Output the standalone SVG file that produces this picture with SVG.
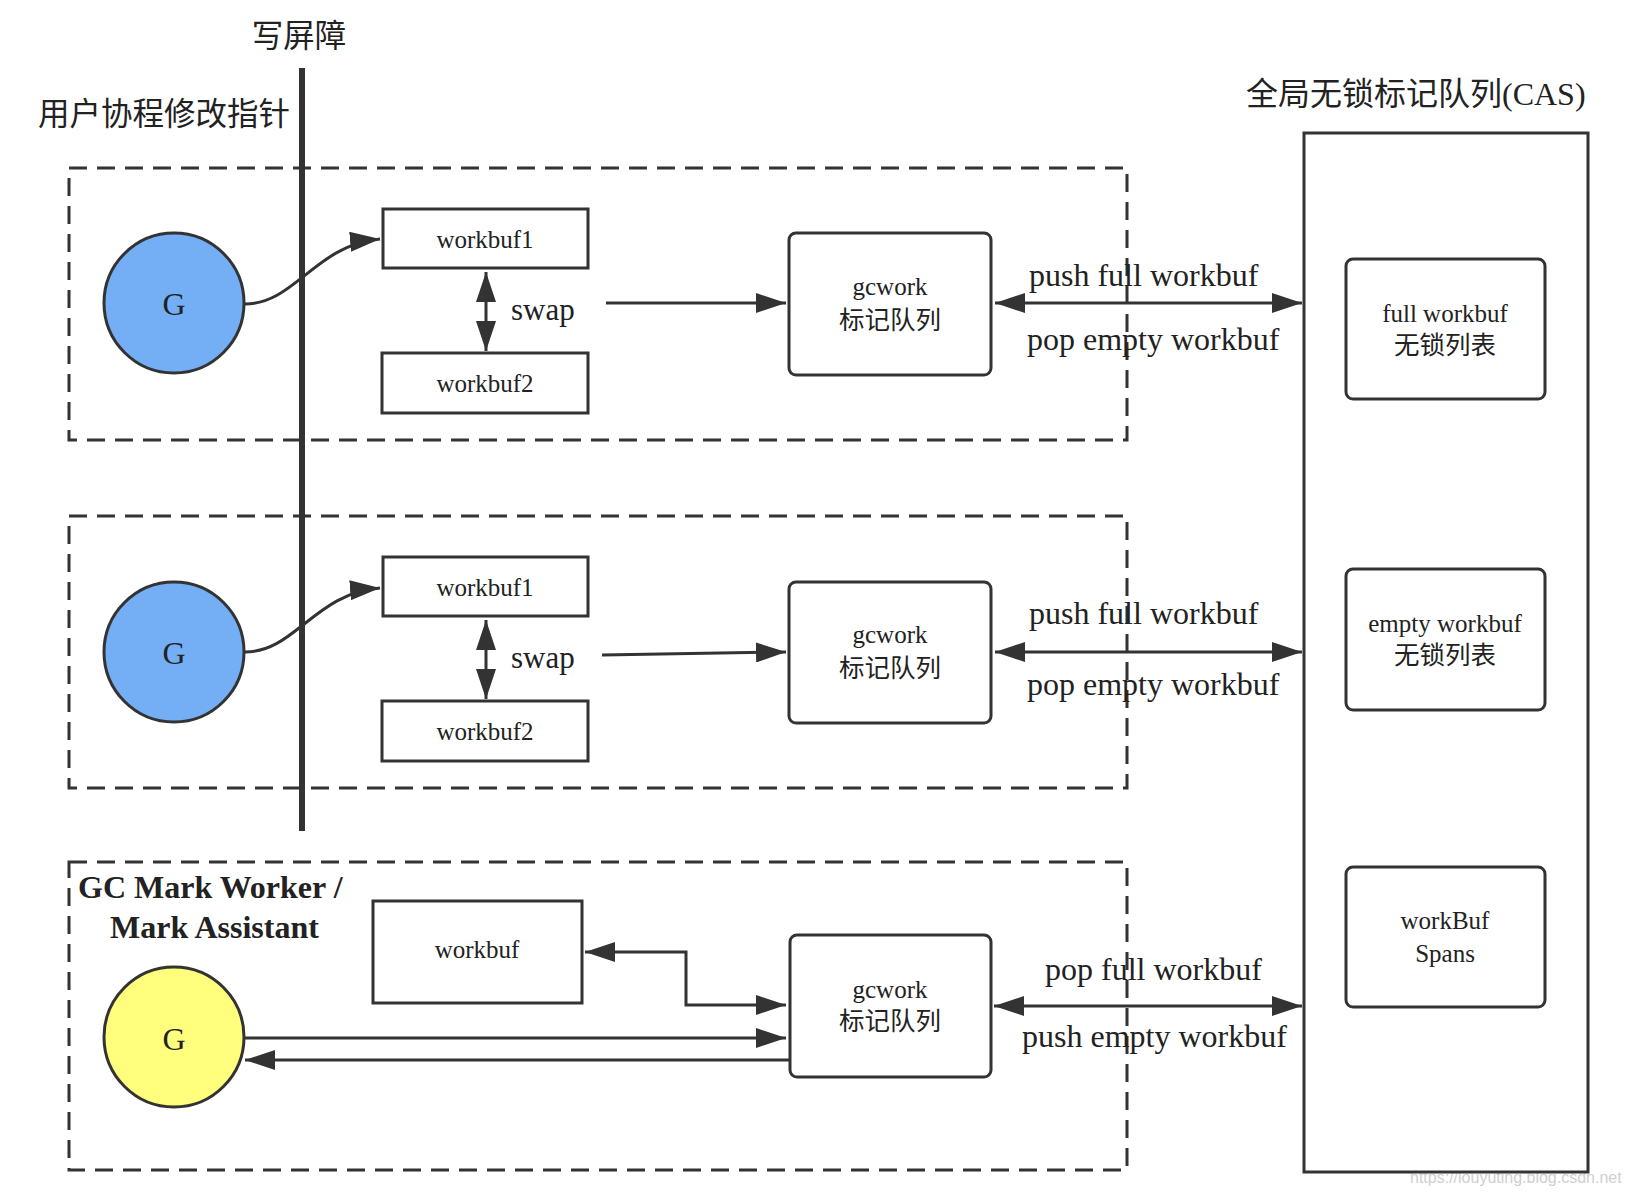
<svg xmlns="http://www.w3.org/2000/svg" width="1630" height="1198" viewBox="0 0 1630 1198">
<style>
.dash{fill:none;stroke:#333;stroke-width:3;stroke-dasharray:18 10}
.box{fill:#fff;stroke:#333;stroke-width:3}
.ln{fill:none;stroke:#333;stroke-width:3}
.t{font-family:"Liberation Serif","Noto Sans CJK SC",serif;fill:#222}
.c{font-family:"Noto Sans CJK SC","Liberation Serif",sans-serif;fill:#222}
.m{text-anchor:middle}
</style>
<defs>
<marker id="ah" markerUnits="userSpaceOnUse" markerWidth="30" markerHeight="20" refX="30" refY="10" orient="auto-start-reverse">
<path d="M0,0 L30,10 L0,20 z" fill="#333"/>
</marker>
</defs>
<rect width="1630" height="1198" fill="#fff"/>

<g id="group1"><rect class="dash" x="69" y="168" width="1058" height="272"/></g>
<g id="group2"><rect class="dash" x="69" y="516" width="1058" height="272"/></g>
<g id="group3"><rect class="dash" x="69" y="862" width="1058" height="308"/></g>

<g id="labels">
<text class="c m" x="299" y="47" font-size="31.5">写屏障</text>
<text class="c" x="38" y="125" font-size="31.5">用户协程修改指针</text>
<text class="t" x="1246" y="105" font-size="32">全局无锁标记队列(CAS)</text>
<text class="t" x="78" y="898" font-size="32" font-weight="bold">GC Mark Worker /</text>
<text class="t" x="110" y="938" font-size="32" font-weight="bold">Mark Assistant</text>
<text x="1410" y="1183" font-size="16" font-family="Liberation Sans,sans-serif" fill="#d0d0d0">https://louyuting.blog.csdn.net</text>
</g>

<g id="write-barrier"><line x1="302" y1="68" x2="302" y2="831" stroke="#333" stroke-width="6"/></g>

<g id="global-queue"><rect x="1304" y="133" width="284" height="1039" fill="none" stroke="#333" stroke-width="3"/></g>

<g id="g1"><circle cx="174" cy="303" r="70" fill="#74AEF5" stroke="#333" stroke-width="3"/><text class="t m" x="174" y="315" font-size="32">G</text></g>
<g id="g2"><circle cx="174" cy="652" r="70" fill="#74AEF5" stroke="#333" stroke-width="3"/><text class="t m" x="174" y="664" font-size="32">G</text></g>
<g id="g3"><circle cx="174" cy="1037" r="70" fill="#FFFF7D" stroke="#333" stroke-width="3"/><text class="t m" x="174" y="1050" font-size="32">G</text></g>

<g id="wb1a"><rect class="box" x="383" y="209" width="205" height="59"/><text class="t m" x="485" y="248" font-size="25">workbuf1</text></g>
<g id="wb2a"><rect class="box" x="382" y="353" width="206" height="60"/><text class="t m" x="485" y="392" font-size="25">workbuf2</text></g>
<g id="wb1b"><rect class="box" x="383" y="557" width="205" height="59"/><text class="t m" x="485" y="596" font-size="25">workbuf1</text></g>
<g id="wb2b"><rect class="box" x="382" y="701" width="206" height="60"/><text class="t m" x="485" y="740" font-size="25">workbuf2</text></g>
<g id="wb3"><rect class="box" x="373" y="901" width="209" height="102"/><text class="t m" x="477" y="958" font-size="25">workbuf</text></g>

<g id="gcwork1"><rect class="box" x="789" y="233" width="202" height="142" rx="7"/><text class="t m" x="890" y="295" font-size="25">gcwork</text><text class="c m" x="890" y="329" font-size="25.5">标记队列</text></g>
<g id="gcwork2"><rect class="box" x="789" y="582" width="202" height="141" rx="7"/><text class="t m" x="890" y="643" font-size="25">gcwork</text><text class="c m" x="890" y="677" font-size="25.5">标记队列</text></g>
<g id="gcwork3"><rect class="box" x="790" y="935" width="201" height="142" rx="7"/><text class="t m" x="890" y="998" font-size="25">gcwork</text><text class="c m" x="890" y="1030" font-size="25.5">标记队列</text></g>

<g id="fullList"><rect class="box" x="1346" y="259" width="199" height="140" rx="7"/><text class="t m" x="1445" y="322" font-size="25">full workbuf</text><text class="c m" x="1445" y="354" font-size="25.5">无锁列表</text></g>
<g id="emptyList"><rect class="box" x="1346" y="569" width="199" height="141" rx="7"/><text class="t m" x="1445" y="632" font-size="25">empty workbuf</text><text class="c m" x="1445" y="664" font-size="25.5">无锁列表</text></g>
<g id="spans"><rect class="box" x="1346" y="867" width="199" height="140" rx="7"/><text class="t m" x="1445" y="929" font-size="25">workBuf</text><text class="t m" x="1445" y="962" font-size="25">Spans</text></g>

<g id="connectors">
<path class="ln" d="M245,304 C295,304 315,245 380,239" marker-end="url(#ah)"/>
<path class="ln" d="M245,652 C295,652 315,593 380,588" marker-end="url(#ah)"/>
<line class="ln" x1="486" y1="272" x2="486" y2="351" marker-start="url(#ah)" marker-end="url(#ah)"/>
<line class="ln" x1="486" y1="620" x2="486" y2="699" marker-start="url(#ah)" marker-end="url(#ah)"/>
<line class="ln" x1="606" y1="303" x2="786" y2="303" marker-end="url(#ah)"/>
<line class="ln" x1="602" y1="655" x2="786" y2="652" marker-end="url(#ah)"/>
<line class="ln" x1="995" y1="303" x2="1302" y2="303" marker-start="url(#ah)" marker-end="url(#ah)"/>
<line class="ln" x1="995" y1="652" x2="1302" y2="652" marker-start="url(#ah)" marker-end="url(#ah)"/>
<line class="ln" x1="994" y1="1006" x2="1302" y2="1006" marker-start="url(#ah)" marker-end="url(#ah)"/>
<path class="ln" d="M585,952 H686 V1005 H786" marker-start="url(#ah)" marker-end="url(#ah)"/>
<line class="ln" x1="244" y1="1038" x2="786" y2="1038" marker-end="url(#ah)"/>
<line class="ln" x1="789" y1="1060" x2="245" y2="1060" marker-end="url(#ah)"/>
</g>

<g id="edge-labels">
<text class="t" x="1029" y="286" font-size="32">push full workbuf</text>
<text class="t" x="1027" y="350" font-size="32">pop empty workbuf</text>
<text class="t" x="1029" y="624" font-size="32">push full workbuf</text>
<text class="t" x="1027" y="695" font-size="32">pop empty workbuf</text>
<text class="t" x="1045" y="980" font-size="32">pop full workbuf</text>
<text class="t" x="1022" y="1047" font-size="32">push empty workbuf</text>
<text class="t" x="511" y="320" font-size="31">swap</text>
<text class="t" x="511" y="668" font-size="31">swap</text>
</g>
</svg>
